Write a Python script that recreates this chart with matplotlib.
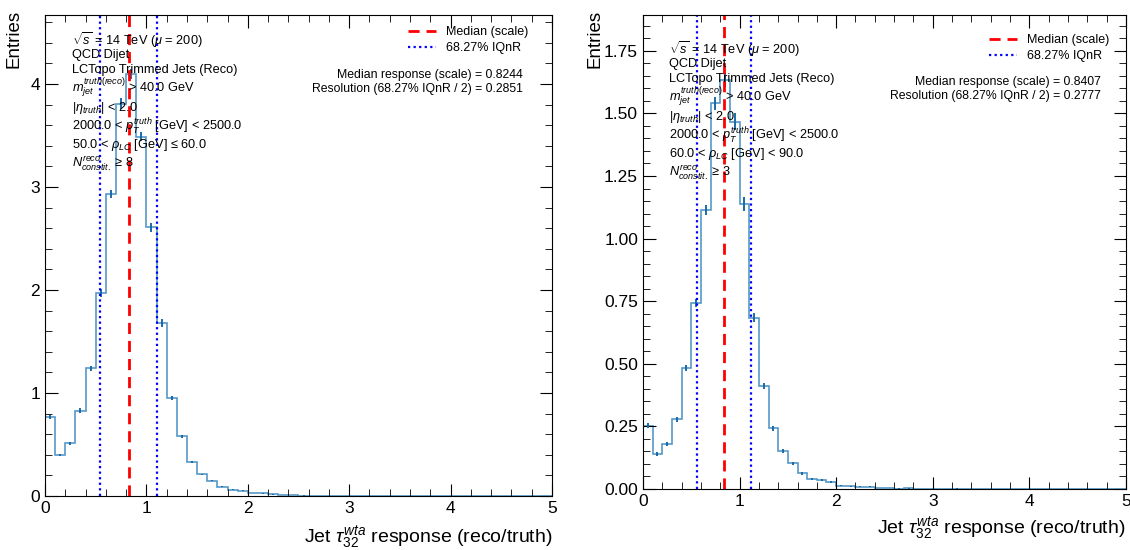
import numpy as np
import matplotlib
matplotlib.use("Agg")
import matplotlib.pyplot as plt
from matplotlib.ticker import MultipleLocator

plt.rcParams['font.family'] = ['Liberation Sans', 'DejaVu Sans']
plt.rcParams['mathtext.fontset'] = 'custom'
plt.rcParams['mathtext.rm'] = 'Liberation Sans'
plt.rcParams['mathtext.it'] = 'Liberation Sans:italic'
plt.rcParams['mathtext.bf'] = 'Liberation Sans:bold'

# Binning: 50 bins of width 0.1 from 0 to 5
bin_edges = np.round(np.arange(0, 5.0001, 0.1), 2)

# Panel 1: 50 < rho_LC <= 60 GeV
left_counts = [0.77, 0.40, 0.51, 0.83, 1.24, 1.97, 2.93, 3.81, 4.10, 3.49,
               2.61, 1.68, 0.95, 0.58, 0.33, 0.21, 0.15, 0.09, 0.06, 0.05,
               0.03, 0.025, 0.015, 0.008, 0.006, 0.004, 0.002, 0.0, 0.0, 0.0,
               0.0, 0.0, 0.0, 0.0, 0.0, 0.0, 0.0, 0.0, 0.0, 0.0,
               0.0, 0.0, 0.0, 0.0, 0.0, 0.0, 0.0, 0.0, 0.0, 0.0]
left_errors = [0.02, 0.01, 0.015, 0.02, 0.025, 0.04, 0.04, 0.05, 0.05, 0.045,
               0.045, 0.035, 0.02, 0.015, 0.01, 0.008, 0.007, 0.005, 0.004, 0.004,
               0.003, 0.003, 0.002, 0.002, 0.001, 0.001, 0.001, 0.0, 0.0, 0.0,
               0.0, 0.0, 0.0, 0.0, 0.0, 0.0, 0.0, 0.0, 0.0, 0.0,
               0.0, 0.0, 0.0, 0.0, 0.0, 0.0, 0.0, 0.0, 0.0, 0.0]
left_median = 0.8244
left_resolution = 0.2851
left_iqnr = [0.539, 1.109]

# Panel 2: 60 < rho_LC < 90 GeV
right_counts = [0.252, 0.140, 0.180, 0.278, 0.482, 0.742, 1.114, 1.540, 1.633, 1.467,
                1.138, 0.684, 0.411, 0.243, 0.151, 0.102, 0.062, 0.040, 0.037, 0.027,
                0.013, 0.011, 0.010, 0.009, 0.004, 0.004, 0.002, 0.003, 0.001, 0.001,
                0.001, 0.0005, 0.002, 0.0, 0.0, 0.0, 0.0, 0.0, 0.0, 0.0,
                0.0, 0.0, 0.0, 0.0, 0.0, 0.0, 0.0, 0.0, 0.0, 0.0]
right_errors = [0.01, 0.007, 0.008, 0.01, 0.012, 0.015, 0.02, 0.026, 0.028, 0.033,
                0.027, 0.017, 0.012, 0.01, 0.008, 0.006, 0.005, 0.004, 0.004, 0.003,
                0.002, 0.002, 0.002, 0.002, 0.001, 0.001, 0.001, 0.001, 0.0, 0.0,
                0.0, 0.0, 0.001, 0.0, 0.0, 0.0, 0.0, 0.0, 0.0, 0.0,
                0.0, 0.0, 0.0, 0.0, 0.0, 0.0, 0.0, 0.0, 0.0, 0.0]
right_median = 0.8407
right_resolution = 0.2777
right_iqnr = [0.563, 1.118]

common_lines = [r'$\sqrt{s}$ = 14 TeV ($\mu$ = 200)',
                'QCD Dijet',
                'LCTopo Trimmed Jets (Reco)',
                r'$m_{jet}^{truth(reco)}$ > 40.0 GeV',
                r'$|\eta_{truth}|$ < 2.0',
                r'2000.0 < $p_{T}^{truth}$ [GeV] < 2500.0']
left_lines = common_lines + [r'50.0 < $\rho_{LC}$ [GeV] ≤ 60.0',
                             r'$N_{constit.}^{reco}$ ≥ 8']
right_lines = common_lines + [r'60.0 < $\rho_{LC}$ [GeV] < 90.0',
                              r'$N_{constit.}^{reco}$ ≥ 3']

# vertical offsets (pixels) of the selection lines below the first one
line_offsets_px = [0, 15, 30, 48, 68, 87, 105, 123]

fig = plt.figure(figsize=(11.3, 5.5), dpi=100)
ax_l = fig.add_axes([0.0398, 0.0982, 0.4487, 0.8745])
ax_r = fig.add_axes([0.569, 0.1109, 0.4274, 0.8618])

hist_color = '#1f77b4'


def draw_panel(ax, counts, errors, median, resolution, iqnr, lines,
               ymax, ymajor, yminor, text_top, leg_x, leg_y,
               summary_x, summary_y):
    counts = np.asarray(counts)
    errors = np.asarray(errors)
    centers = 0.5 * (bin_edges[:-1] + bin_edges[1:])
    ax.stairs(counts, bin_edges, color=hist_color, alpha=0.75, lw=1.2)
    mask = counts > 0
    ax.errorbar(centers[mask], counts[mask], yerr=errors[mask], fmt='none',
                ecolor='#1a6aa8', elinewidth=1.4)
    ax.axvline(median, color='red', ls=(0, (4, 2.5)), lw=2.0,
               label='Median (scale)')
    ax.axvline(iqnr[0], color='blue', ls=(0, (1, 1.5)), lw=1.6,
               label='68.27% IQnR')
    ax.axvline(iqnr[1], color='blue', ls=(0, (1, 1.5)), lw=1.6)

    ax.set_xlim(0, 5)
    ax.set_ylim(0, ymax)
    ax.xaxis.set_major_locator(MultipleLocator(1))
    ax.xaxis.set_minor_locator(MultipleLocator(0.2))
    ax.yaxis.set_major_locator(MultipleLocator(ymajor))
    ax.yaxis.set_minor_locator(MultipleLocator(yminor))
    ax.tick_params(which='both', direction='in', top=True, right=True,
                   labelsize=12.5)
    ax.tick_params(which='major', length=9)
    ax.tick_params(which='minor', length=5)

    ax.set_xlabel(r'Jet $\tau_{32}^{wta}$ response (reco/truth)', fontsize=14,
                  loc='right')
    ax.set_ylabel('Entries', fontsize=13.5, loc='top')

    h_px = ax.get_position().height * fig.get_figheight() * fig.dpi
    for s, off in zip(lines, line_offsets_px):
        ax.text(0.053, text_top - off / h_px, s, transform=ax.transAxes,
                fontsize=9.2, va='center', ha='left')

    ax.legend(loc='upper right', bbox_to_anchor=(leg_x, leg_y),
              frameon=False, fontsize=9, handlelength=2.2,
              labelspacing=0.35, borderaxespad=0, borderpad=0)
    ax.text(summary_x, summary_y, f'Median response (scale) = {median:.4f}',
            transform=ax.transAxes, fontsize=8.8, ha='right', va='center')
    ax.text(summary_x, summary_y - 14 / h_px,
            f'Resolution (68.27% IQnR / 2) = {resolution:.4f}',
            transform=ax.transAxes, fontsize=8.8, ha='right', va='center')


draw_panel(ax_l, left_counts, left_errors, left_median, left_resolution,
           left_iqnr, left_lines, 4.67, 1, 0.2,
           0.948, 0.953, 0.977, 0.942, 0.875)
draw_panel(ax_r, right_counts, right_errors, right_median, right_resolution,
           right_iqnr, right_lines, 1.893, 0.25, 0.05,
           0.928, 0.965, 0.96, 0.948, 0.859)

ax_l.yaxis.set_label_coords(-0.045, 1.01)
ax_r.yaxis.set_label_coords(-0.082, 1.01)
ax_l.xaxis.set_label_coords(1.0, -0.058)
ax_r.xaxis.set_label_coords(1.0, -0.053)

fig.savefig('out.png', dpi=100)
